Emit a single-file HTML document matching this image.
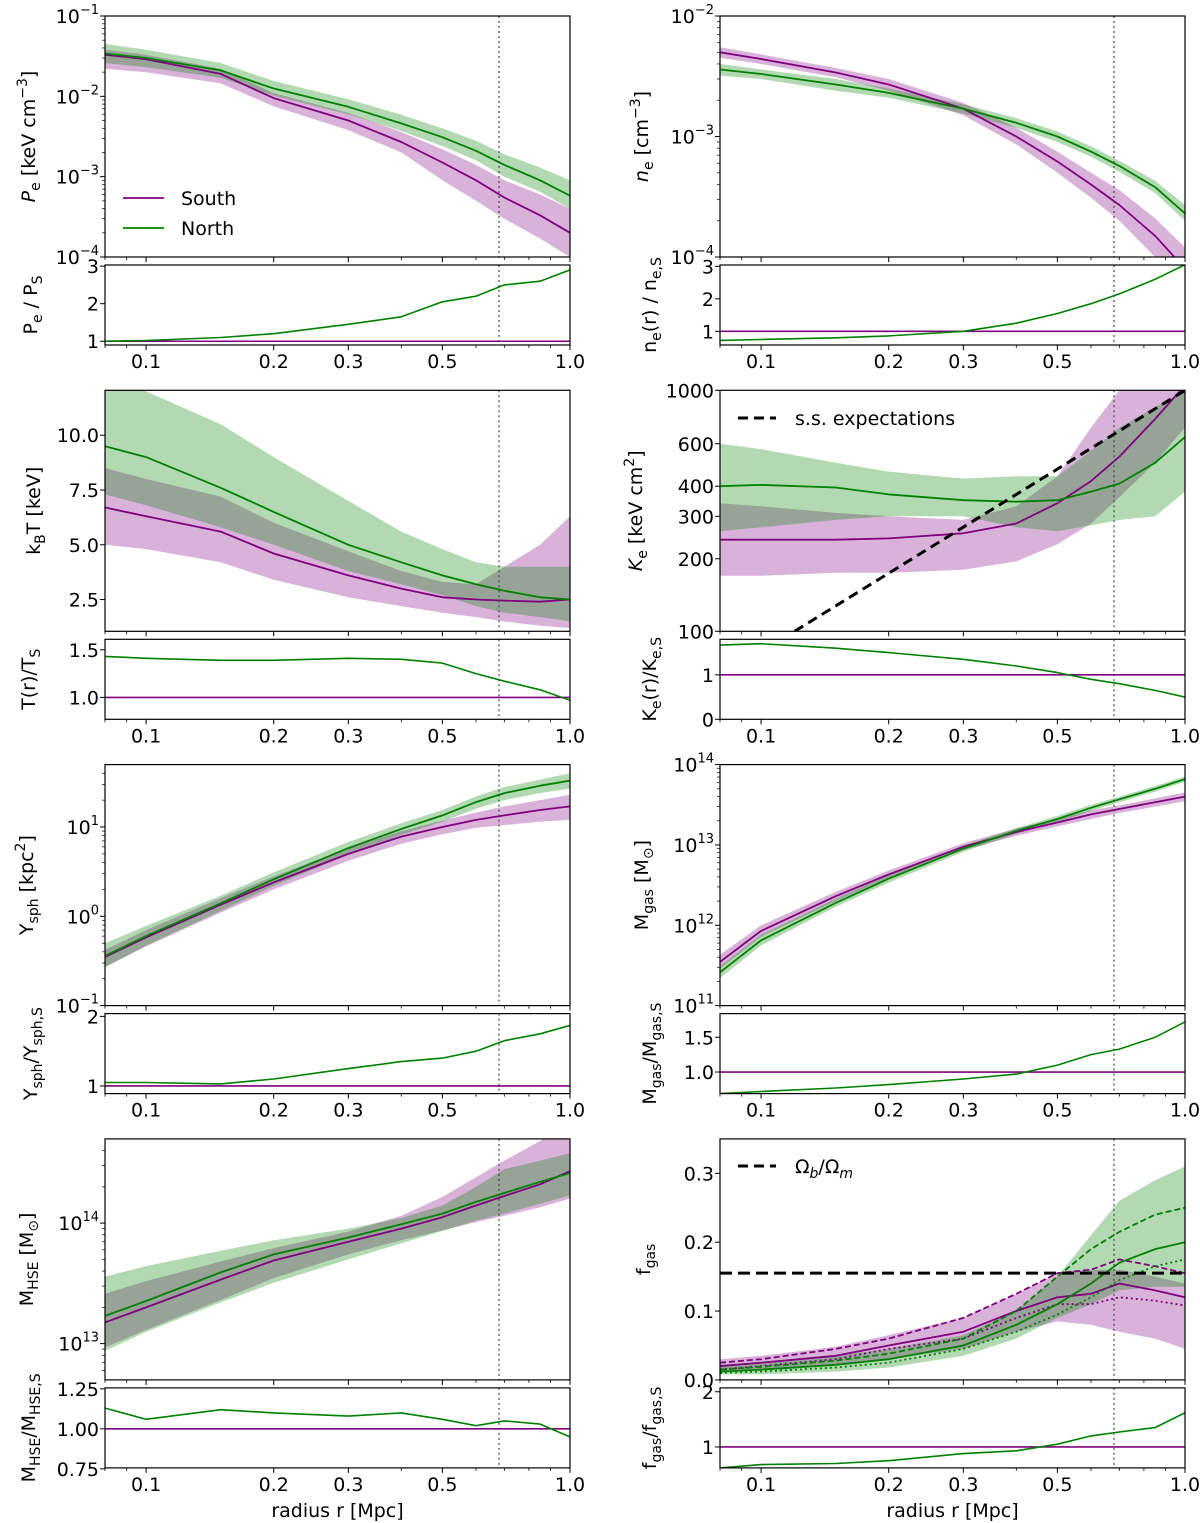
<!DOCTYPE html>
<html><head><meta charset="utf-8"><style>
body{margin:0;background:#fff}
svg{display:block;font-family:"DejaVu Sans","Liberation Sans",sans-serif}
</style></head><body>
<svg id="fig" width="1200" height="1523" viewBox="0 0 1200 1523" xmlns="http://www.w3.org/2000/svg"></svg>
<script>
const rGrid=[0.08,0.1,0.15,0.2,0.3,0.4,0.5,0.6,0.7,0.85,1.0];
// Pressure
const peSouth=[0.033,0.029,0.019,0.0095,0.005,0.0027,0.0015,0.0009,0.00055,0.00033,0.0002];
const peSouthHi=[0.038,0.033,0.022,0.011,0.0062,0.0036,0.0022,0.0014,0.0009,0.0006,0.0004];
const peSouthLo=[0.022,0.02,0.0145,0.0075,0.0038,0.002,0.0009,0.0005,0.0003,0.00017,0.0001];
const peNorth=[0.034,0.030,0.021,0.0125,0.0074,0.0046,0.0031,0.0021,0.0014,0.0009,0.00058];
const peNorthHi=[0.045,0.038,0.026,0.0155,0.0092,0.0059,0.004,0.0028,0.0019,0.0013,0.0009];
const peNorthLo=[0.026,0.023,0.017,0.0102,0.006,0.0037,0.0024,0.0016,0.001,0.00065,0.0004];
const peRatio=[1.0,1.02,1.1,1.2,1.45,1.65,2.05,2.2,2.5,2.6,2.9];
// Density
const neSouth=[0.005,0.0044,0.0034,0.0027,0.0017,0.001,0.00062,0.0004,0.00027,0.00015,0.00008];
const neSouthHi=[0.0055,0.0048,0.0037,0.003,0.0019,0.00118,0.00075,0.0005,0.00036,0.00021,0.00012];
const neSouthLo=[0.0045,0.004,0.0031,0.0024,0.0015,0.00086,0.0005,0.00031,0.0002,0.0001,0.00005];
const neNorth=[0.0036,0.0033,0.0027,0.0023,0.0017,0.0013,0.001,0.00075,0.00057,0.00038,0.00023];
const neNorthHi=[0.0040,0.0036,0.003,0.0025,0.00185,0.00142,0.0011,0.00083,0.00063,0.00043,0.00027];
const neNorthLo=[0.0032,0.003,0.0024,0.0021,0.00155,0.00118,0.0009,0.00068,0.00051,0.00034,0.0002];
const neRatio=[0.72,0.75,0.8,0.86,1.0,1.25,1.55,1.85,2.15,2.6,3.05];
// Temperature
const tSouth=[6.7,6.3,5.6,4.6,3.6,3.0,2.6,2.5,2.45,2.4,2.5];
const tSouthHi=[8.5,8.0,7.2,6.0,4.7,3.8,3.3,3.2,4.0,5.0,6.3];
const tSouthLo=[5.0,4.8,4.2,3.4,2.6,2.2,1.9,1.7,1.5,1.3,1.2];
const tNorth=[9.5,9.0,7.6,6.5,5.0,4.2,3.6,3.2,2.9,2.6,2.5];
const tNorthHi=[12.5,12.0,10.5,9.0,7.0,5.6,4.8,4.2,4.0,4.0,4.0];
const tNorthLo=[7.3,6.8,5.8,5.0,3.8,3.2,2.7,2.2,1.9,1.7,1.5];
const tRatio=[1.43,1.41,1.39,1.39,1.41,1.40,1.36,1.25,1.17,1.08,0.97];
// Entropy
const kSouth=[240,240,240,243,255,280,340,420,530,760,1050];
const kSouthHi=[340,330,310,300,290,330,440,700,1000,1200,1300];
const kSouthLo=[170,170,175,175,180,195,230,280,360,500,700];
const kNorth=[400,405,395,370,350,345,350,380,410,500,640];
const kNorthHi=[600,570,500,460,430,440,440,560,700,850,1000];
const kNorthLo=[260,270,290,300,300,270,260,275,290,300,380];
const ssR=[0.12,1.0];
const ssK=[100,1000];
const kRatio=[1.67,1.7,1.6,1.5,1.35,1.2,1.05,0.9,0.8,0.65,0.5];
// Ysph
const ySouth=[0.35,0.58,1.35,2.4,5.0,7.8,10,12,13.5,15.5,17];
const ySouthHi=[0.42,0.7,1.6,2.8,5.8,9,11.8,14.5,17,20,23];
const ySouthLo=[0.27,0.46,1.1,2.0,4.2,6.5,8.3,9.8,10.5,11.5,12];
const yNorth=[0.36,0.6,1.4,2.6,5.8,9.5,13.5,19,24,29,33];
const yNorthHi=[0.5,0.78,1.7,3.1,6.8,11,15.5,22,28,34,40];
const yNorthLo=[0.27,0.47,1.15,2.2,4.9,8.2,11.5,16,20,24,27];
const yRatio=[1.05,1.05,1.03,1.1,1.25,1.35,1.4,1.5,1.65,1.75,1.87];
// Mgas
const mgSouth=[3.5e11,8.5e11,2.3e12,4.3e12,9.5e12,1.45e13,1.9e13,2.4e13,2.8e13,3.4e13,4e13];
const mgSouthHi=[4.3e11,1e12,2.6e12,4.8e12,1.05e13,1.6e13,2.1e13,2.7e13,3.1e13,3.8e13,4.5e13];
const mgSouthLo=[2.9e11,7.2e11,2e12,3.9e12,8.6e12,1.3e13,1.7e13,2.1e13,2.5e13,3e13,3.5e13];
const mgNorth=[2.6e11,6.5e11,1.9e12,3.8e12,9e12,1.5e13,2.1e13,2.9e13,3.7e13,5e13,6.6e13];
const mgNorthHi=[3.1e11,7.6e11,2.15e12,4.2e12,9.8e12,1.62e13,2.3e13,3.15e13,4e13,5.4e13,7.1e13];
const mgNorthLo=[2.2e11,5.6e11,1.7e12,3.4e12,8.2e12,1.38e13,1.92e13,2.65e13,3.4e13,4.6e13,6.1e13];
const mgRatio=[0.69,0.72,0.77,0.82,0.9,0.97,1.1,1.25,1.33,1.5,1.72];
// M HSE
const mhSouth=[1.5e13,2.0e13,3.4e13,4.9e13,7.0e13,9.0e13,1.12e14,1.4e14,1.68e14,2.1e14,2.7e14];
const mhSouthHi=[2.6e13,3.3e13,4.8e13,6.2e13,8.5e13,1.15e14,1.65e14,2.4e14,3.3e14,4.8e14,7e14];
const mhSouthLo=[9.3e12,1.3e13,2.3e13,3.5e13,5.5e13,7.2e13,8.7e13,1.02e14,1.15e14,1.35e14,1.6e14];
const mhNorth=[1.7e13,2.26e13,3.9e13,5.5e13,7.6e13,9.8e13,1.2e14,1.5e14,1.78e14,2.2e14,2.6e14];
const mhNorthHi=[3.6e13,4.4e13,5.9e13,7.2e13,9e13,1.1e14,1.4e14,2.0e14,2.8e14,3.3e14,3.8e14];
const mhNorthLo=[8.7e12,1.25e13,2.2e13,3.2e13,5.0e13,6.8e13,8.6e13,1.05e14,1.2e14,1.45e14,1.7e14];
const mhRatio=[1.13,1.06,1.12,1.1,1.08,1.1,1.06,1.02,1.05,1.03,0.95];
// fgas
const fSouth=[0.02,0.025,0.035,0.05,0.07,0.1,0.12,0.125,0.14,0.13,0.12];
const fSouthDash=[0.025,0.03,0.045,0.06,0.09,0.125,0.155,0.16,0.175,0.165,0.155];
const fSouthDot=[0.015,0.02,0.03,0.045,0.06,0.09,0.11,0.11,0.12,0.115,0.108];
const fSouthHi=[0.03,0.035,0.048,0.065,0.09,0.125,0.155,0.16,0.16,0.15,0.14];
const fSouthLo=[0.012,0.015,0.022,0.03,0.045,0.07,0.085,0.08,0.07,0.06,0.045];
const fNorth=[0.012,0.015,0.022,0.03,0.05,0.08,0.11,0.14,0.17,0.19,0.2];
const fNorthDash=[0.015,0.019,0.028,0.038,0.06,0.1,0.15,0.19,0.215,0.24,0.25];
const fNorthDot=[0.01,0.012,0.018,0.025,0.045,0.07,0.095,0.12,0.145,0.165,0.175];
const fNorthHi=[0.022,0.026,0.035,0.045,0.065,0.1,0.15,0.21,0.26,0.29,0.31];
const fNorthLo=[0.008,0.008,0.012,0.018,0.035,0.06,0.09,0.11,0.13,0.135,0.135];
const fBaryon=[0.155];
const fRatio=[0.62,0.68,0.7,0.75,0.88,0.93,1.05,1.2,1.27,1.35,1.62];
const r500=[0.68];
const xTickVals=[0.1,0.2,0.3,0.5,1.0];
const xTickLabels=["0.1","0.2","0.3","0.5","1.0"];

const NS="http://www.w3.org/2000/svg";
const svg=document.getElementById('fig');
const PURPLE="#800080",GREEN="#008000";
const XMIN=0.08,XMAX=1.0,W=465;
const colLeft=[105,720];
function rowTop(r){return 16+r*374.3;}
function mk(tag,attrs,parent){const e=document.createElementNS(NS,tag);for(const k in attrs)e.setAttribute(k,attrs[k]);(parent||svg).appendChild(e);return e;}
function lg(v){return Math.log10(v);}
function xS(col,r){return colLeft[col]+(lg(r)-lg(XMIN))/(lg(XMAX)-lg(XMIN))*W;}
let clipId=0;

function makePanel(col,row,kind,ylog,ymin,ymax,name){
  const t=rowTop(row);
  const y0=kind==='main'?t:t+249, h=kind==='main'?241:80;
  const p={col,y0,h,ylog,ymin,ymax,x0:colLeft[col]};
  p.y=function(v){const f=ylog?(lg(v)-lg(ymin))/(lg(ymax)-lg(ymin)):(v-ymin)/(ymax-ymin);return y0+h-f*h;};
  p.x=function(r){return xS(col,r);};
  const g=mk('g',{});
  
  
  p.g=g;
  clipId++;
  const cp=mk('clipPath',{id:'c'+clipId},g);
  mk('rect',{x:p.x0,y:y0,width:W,height:h},cp);
  p.plot=mk('g',{'clip-path':'url(#c'+clipId+')'},g);
  return p;
}
function frame(p,tickLabels){
  const fr=mk('rect',{x:p.x0,y:p.y0,width:W,height:p.h,fill:'none',stroke:'#000','stroke-width':1.2},p.g);
  
  
  const minors=[0.08,0.09,0.4,0.6,0.7,0.8,0.9];
  minors.forEach(v=>mk('line',{x1:p.x(v),x2:p.x(v),y1:p.y0+p.h,y2:p.y0+p.h+3,stroke:'#000','stroke-width':0.8},p.g));
  xTickVals.forEach((v,i)=>{
    mk('line',{x1:p.x(v),x2:p.x(v),y1:p.y0+p.h,y2:p.y0+p.h+5,stroke:'#000','stroke-width':1},p.g);
    if(tickLabels){
      const tx=mk('text',{x:p.x(v),y:p.y0+p.h+23,'font-size':19,'text-anchor':'middle'},p.g);
      tx.textContent=xTickLabels[i];
      
      
    }
  });
  const d=mk('line',{x1:p.x(r500[0]),x2:p.x(r500[0]),y1:p.y0,y2:p.y0+p.h,stroke:'#444','stroke-width':1.2,'stroke-dasharray':'2,3'},p.plot);
  
  
}
function yTicks(p,vals,labels,pow){
  vals.forEach((v,i)=>{
    const yy=p.y(v);
    mk('line',{x1:p.x0-5,x2:p.x0,y1:yy,y2:yy,stroke:'#000','stroke-width':1},p.g);
    const tx=mk('text',{x:p.x0-6,y:yy+7,'font-size':19,'text-anchor':'end'},p.g);
    
    
    if(pow){tx.textContent='10';const s=mk('tspan',{dy:-9,'font-size':13},tx);s.textContent=labels[i];}
    else tx.textContent=labels[i];
  });
}
function minorLog(p){
  const a=Math.floor(lg(p.ymin)),b=Math.ceil(lg(p.ymax));
  for(let e=a;e<b;e++)for(let m=2;m<10;m++){const v=m*Math.pow(10,e);if(v>p.ymin&&v<p.ymax){const yy=p.y(v);mk('line',{x1:p.x0-3,x2:p.x0,y1:yy,y2:yy,stroke:'#000','stroke-width':0.7},p.g);}}
}
function band(p,hi,lo,color,name){
  let d='';
  rGrid.forEach((r,i)=>{d+=(i?'L':'M')+p.x(r).toFixed(1)+','+p.y(hi[i]).toFixed(1);});
  for(let i=rGrid.length-1;i>=0;i--)d+='L'+p.x(rGrid[i]).toFixed(1)+','+p.y(lo[i]).toFixed(1);
  const e=mk('path',{d:d+'Z',fill:color,'fill-opacity':0.3,stroke:'none'},p.plot);
  
  
}
function line(p,xs,ys,color,name,w,dash){
  let d='';
  xs.forEach((r,i)=>{d+=(i?'L':'M')+p.x(r).toFixed(1)+','+p.y(ys[i]).toFixed(1);});
  const a={d:d,fill:'none',stroke:color,'stroke-width':w||1.8,'stroke-linejoin':'round'};
  if(dash)a['stroke-dasharray']=dash;
  const e=mk('path',a,p.plot);
  
  
}
function hline(p,v,color,name,w,dash){
  const a={x1:p.x0,x2:p.x0+W,y1:p.y(v),y2:p.y(v),stroke:color,'stroke-width':w||1.8};
  if(dash)a['stroke-dasharray']=dash;
  const e=mk('line',a,p.plot);
  
  
}
function ylabel(p,x,html,name){
  const cy=p.y0+p.h/2;
  const t=mk('text',{x:x,y:cy,'font-size':19,'text-anchor':'middle',transform:'rotate(-90 '+x+' '+cy+')'},p.g);
  t.innerHTML=html;
  
  
}
const sub=(s)=>'<tspan font-size="14" dy="5">'+s+'</tspan><tspan dy="-5">';
const E='</tspan>';
const sup=(s)=>'<tspan font-size="14" dy="-8">'+s+'</tspan><tspan dy="8">';

function ratioPanel(col,row,ymin,ymax,vals,labels,data,lab,lx,name){
  const p=makePanel(col,row,'ratio',false,ymin,ymax,name);
  hline(p,1,PURPLE,'south-ratio-line',1.6);
  line(p,rGrid,data,GREEN,'north-ratio-line',1.6);
  frame(p,true);yTicks(p,vals,labels,false);ylabel(p,lx,lab,'ratio-y-axis-title');
}
function mainPair(p,sHi,sLo,s,nHi,nLo,n){
  band(p,sHi,sLo,PURPLE,'south-band');band(p,nHi,nLo,GREEN,'north-band');
  line(p,rGrid,s,PURPLE,'south-line');line(p,rGrid,n,GREEN,'north-line');
}

// Row 0 left: Pe
let p=makePanel(0,0,'main',true,1e-4,1e-1,'pressure-panel');
mainPair(p,peSouthHi,peSouthLo,peSouth,peNorthHi,peNorthLo,peNorth);
frame(p,false);minorLog(p);yTicks(p,[1e-1,1e-2,1e-3,1e-4],['−1','−2','−3','−4'],true);
ylabel(p,35,'<tspan font-style="italic">P</tspan>'+sub('e')+' [keV cm'+sup('−3')+']'+E+E,'pressure-y-axis-title');
[['South',PURPLE,198],['North',GREEN,228]].forEach(([nm,c,yy])=>{
  const g=mk('g',{});
  
  
  mk('line',{x1:123,x2:164,y1:yy,y2:yy,stroke:c,'stroke-width':1.8},g);
  const t=mk('text',{x:181,y:yy+7,'font-size':19},g);t.textContent=nm;
});
ratioPanel(0,0,0.9,3.03,[1,2,3],['1','2','3'],peRatio,'P'+sub('e')+' / P'+sub('S')+E+E,37,'pressure-ratio-panel');

// Row 0 right: ne
p=makePanel(1,0,'main',true,1e-4,1e-2,'density-panel');
mainPair(p,neSouthHi,neSouthLo,neSouth,neNorthHi,neNorthLo,neNorth);
frame(p,false);minorLog(p);yTicks(p,[1e-2,1e-3,1e-4],['−2','−3','−4'],true);
ylabel(p,648,'<tspan font-style="italic">n</tspan>'+sub('e')+' [cm'+sup('−3')+']'+E+E,'density-y-axis-title');
ratioPanel(1,0,0.58,3.04,[1,2,3],['1','2','3'],neRatio,'n'+sub('e')+'(r) / n'+sub('e,S')+E+E,656,'density-ratio-panel');

// Row 1 left: T
p=makePanel(0,1,'main',false,1.05,12.05,'temperature-panel');
mainPair(p,tSouthHi,tSouthLo,tSouth,tNorthHi,tNorthLo,tNorth);
frame(p,false);yTicks(p,[2.5,5,7.5,10],['2.5','5.0','7.5','10.0'],false);
ylabel(p,40,'k'+sub('B')+'T [keV]'+E,'temperature-y-axis-title');
ratioPanel(0,1,0.77,1.61,[1.0,1.5],['1.0','1.5'],tRatio,'T(r)/T'+sub('S')+E,35,'temperature-ratio-panel');

// Row 1 right: K
p=makePanel(1,1,'main',true,100,1000,'entropy-panel');
mainPair(p,kSouthHi,kSouthLo,kSouth,kNorthHi,kNorthLo,kNorth);
line(p,ssR,ssK,'#000','self-similar-line',3,'10,6');
frame(p,false);yTicks(p,[100,200,300,400,600,1000],['100','200','300','400','600','1000'],false);
ylabel(p,642,'<tspan font-style="italic">K</tspan>'+sub('e')+' [keV cm'+sup('2')+']'+E+E,'entropy-y-axis-title');
{const g=mk('g',{});
mk('line',{x1:738,x2:776,y1:418,y2:418,stroke:'#000','stroke-width':3,'stroke-dasharray':'10,6'},g);
const t=mk('text',{x:795,y:425,'font-size':19},g);t.textContent='s.s. expectations';}
ratioPanel(1,1,0,1.8,[0,1],['0','1'],kRatio,'K'+sub('e')+'(r)/K'+sub('e,S')+E+E,656,'entropy-ratio-panel');

// Row 2 left: Ysph
p=makePanel(0,2,'main',true,0.1,50,'ysph-panel');
mainPair(p,ySouthHi,ySouthLo,ySouth,yNorthHi,yNorthLo,yNorth);
frame(p,false);minorLog(p);yTicks(p,[0.1,1,10],['−1','0','1'],true);
ylabel(p,33,'Y'+sub('sph')+' [kpc'+sup('2')+']'+E+E,'ysph-y-axis-title');
ratioPanel(0,2,0.89,2.04,[1,2],['1','2'],yRatio,'Y'+sub('sph')+'/Y'+sub('sph,S')+E+E,37,'ysph-ratio-panel');

// Row 2 right: Mgas
p=makePanel(1,2,'main',true,1e11,1e14,'mgas-panel');
mainPair(p,mgSouthHi,mgSouthLo,mgSouth,mgNorthHi,mgNorthLo,mgNorth);
frame(p,false);minorLog(p);yTicks(p,[1e11,1e12,1e13,1e14],['11','12','13','14'],true);
ylabel(p,648,'M'+sub('gas')+' [M'+sub('⊙')+']'+E+E,'mgas-y-axis-title');
ratioPanel(1,2,0.69,1.84,[1.0,1.5],['1.0','1.5'],mgRatio,'M'+sub('gas')+'/M'+sub('gas,S')+E+E,656,'mgas-ratio-panel');

// Row 3 left: MHSE
p=makePanel(0,3,'main',true,5e12,5e14,'mhse-panel');
mainPair(p,mhSouthHi,mhSouthLo,mhSouth,mhNorthHi,mhNorthLo,mhNorth);
frame(p,false);minorLog(p);yTicks(p,[1e13,1e14],['13','14'],true);
ylabel(p,33,'M'+sub('HSE')+' [M'+sub('⊙')+']'+E+E,'mhse-y-axis-title');
ratioPanel(0,3,0.756,1.256,[0.75,1.0,1.25],['0.75','1.00','1.25'],mhRatio,'M'+sub('HSE')+'/M'+sub('HSE,S')+E+E,35,'mhse-ratio-panel');

// Row 3 right: fgas
p=makePanel(1,3,'main',false,0,0.35,'fgas-panel');
band(p,fSouthHi,fSouthLo,PURPLE,'south-band');band(p,fNorthHi,fNorthLo,GREEN,'north-band');
line(p,rGrid,fSouth,PURPLE,'south-line');line(p,rGrid,fSouthDash,PURPLE,'south-dashed-line',1.8,'6,3');line(p,rGrid,fSouthDot,PURPLE,'south-dotted-line',1.8,'2,3');
line(p,rGrid,fNorth,GREEN,'north-line');line(p,rGrid,fNorthDash,GREEN,'north-dashed-line',1.8,'6,3');line(p,rGrid,fNorthDot,GREEN,'north-dotted-line',1.8,'2,3');
hline(p,fBaryon[0],'#000','baryon-fraction-line',3,'12,6');
frame(p,false);yTicks(p,[0,0.1,0.2,0.3],['0.0','0.1','0.2','0.3'],false);
ylabel(p,650,'f'+sub('gas')+E,'fgas-y-axis-title');
{const g=mk('g',{});
mk('line',{x1:738,x2:776,y1:1166,y2:1166,stroke:'#000','stroke-width':3,'stroke-dasharray':'10,6'},g);
const t=mk('text',{x:795,y:1173,'font-size':19},g);t.innerHTML='Ω<tspan font-size="14" dy="5" font-style="italic">b</tspan><tspan dy="-5">/Ω</tspan><tspan font-size="14" dy="5" font-style="italic">m</tspan>';}
ratioPanel(1,3,0.62,2.07,[1,2],['1','2'],fRatio,'f'+sub('gas')+'/f'+sub('gas,S')+E+E,656,'fgas-ratio-panel');

[0,1].forEach(c=>{
  const t=mk('text',{x:colLeft[c]+W/2,y:1517,'font-size':19,'text-anchor':'middle'});
  t.textContent='radius r [Mpc]';
  
  
});
</script>
</body></html>
